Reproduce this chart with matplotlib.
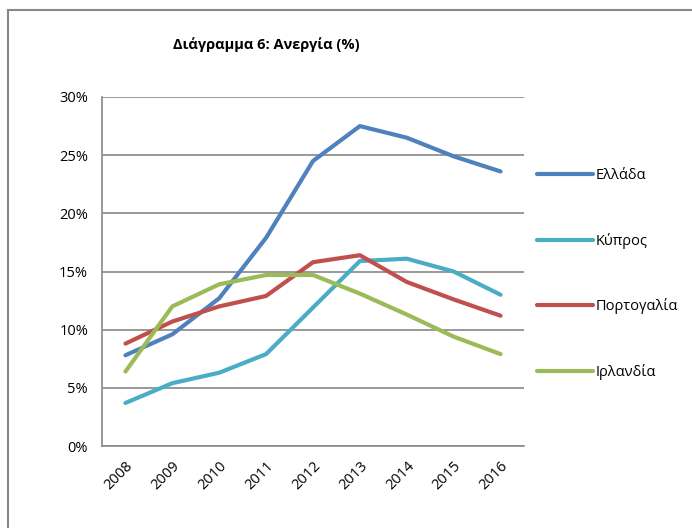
import matplotlib
matplotlib.use("Agg")
import matplotlib.pyplot as plt
from matplotlib.patches import Rectangle
from matplotlib.ticker import FuncFormatter

years = ["2008", "2009", "2010", "2011", "2012", "2013", "2014", "2015", "2016"]
greece = [7.8, 9.6, 12.7, 17.9, 24.5, 27.5, 26.5, 24.9, 23.6]
cyprus = [3.7, 5.4, 6.3, 7.9, 11.9, 15.9, 16.1, 15.0, 13.0]
portugal = [8.8, 10.7, 12.0, 12.9, 15.8, 16.4, 14.1, 12.6, 11.2]
ireland = [6.4, 12.0, 13.9, 14.7, 14.7, 13.1, 11.3, 9.4, 7.9]
series_names = ["Ελλάδα", "Κύπρος", "Πορτογαλία", "Ιρλανδία"]
colors = ["#4F81BD", "#4BACC6", "#C0504D", "#9BBB59"]
yticks = [0, 5, 10, 15, 20, 25, 30]

plt.rcParams['font.family'] = ['Open Sans', 'DejaVu Sans']

W, H = 692, 528
fig = plt.figure(figsize=(W / 100, H / 100), dpi=100)
ax = fig.add_axes([102 / W, 1 - 446 / H, (524 - 102) / W, (446 - 97) / H])

x = list(range(len(years)))
for vals, name, c in zip([greece, cyprus, portugal, ireland], series_names, colors):
    ax.plot(x, vals, color=c, lw=3.0, solid_capstyle='round', label=name)

ax.set_xlim(-0.5, len(years) - 0.5)
ax.set_ylim(0, 30)
ax.set_yticks(yticks)
ax.yaxis.set_major_formatter(FuncFormatter(lambda v, p: f"{int(v)}%"))
ax.set_xticks(x)
ax.set_xticklabels(years, rotation=45, ha='right', rotation_mode='anchor')
ax.tick_params(axis='both', length=0, labelsize=10.5, colors='black')
ax.tick_params(axis='y', pad=10)
ax.tick_params(axis='x', pad=9)
ax.grid(axis='y', color='#888888', lw=1.2)
ax.set_axisbelow(True)
for s in ['top', 'right']:
    ax.spines[s].set_visible(False)
for s in ['left', 'bottom']:
    ax.spines[s].set_color('#888888')
    ax.spines[s].set_linewidth(1.2)

fig.text(266 / W, 1 - 45 / H, "Διάγραμμα 6: Ανεργία (%)", ha='center', va='center',
         fontsize=10.5, fontweight='bold')

fig.legend(loc='center left', bbox_to_anchor=(537 / W, 1 - 274 / H), frameon=False,
           fontsize=10.5, handlelength=3.85, handletextpad=0.2, labelspacing=3.4,
           borderpad=0, borderaxespad=0)

fig.patches.append(Rectangle((8 / W, -0.1), 2, 1 - 10 / H + 0.1, transform=fig.transFigure,
                             fill=False, edgecolor='#888888', lw=1.5))

fig.savefig("out.png", dpi=100, facecolor='white')
